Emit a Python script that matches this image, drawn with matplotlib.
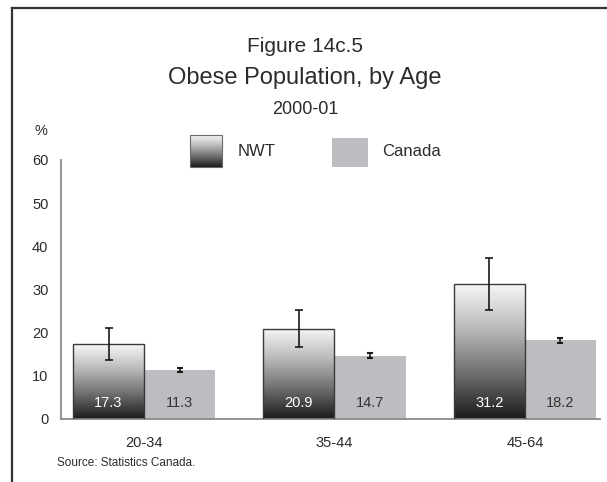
import matplotlib
matplotlib.use("Agg")
import matplotlib.pyplot as plt
import numpy as np
from matplotlib.lines import Line2D
from matplotlib.patches import Rectangle
from matplotlib import font_manager

# Data
age_groups = ["20-34", "35-44", "45-64"]
nwt = [17.3, 20.9, 31.2]
nwt_err = [3.7, 4.3, 6.0]
canada = [11.3, 14.7, 18.2]
canada_err = [0.5, 0.6, 0.5]
series_names = ["NWT", "Canada"]
y_ticks = [0, 10, 20, 30, 40, 50, 60]

names = {f.name for f in font_manager.fontManager.ttflist}
family = "Liberation Sans Narrow" if "Liberation Sans Narrow" in names else "Liberation Sans"
plt.rcParams["font.family"] = [family, "DejaVu Sans"]

TEXT = "#2b2b2b"
CANADA_COLOR = "#bdbdc1"

W, H = 607, 482
fig = plt.figure(figsize=(W / 100, H / 100), dpi=100)
fig.patch.set_facecolor("white")

ax_left, ax_right = 61 / W, 600 / W
ax_bottom, ax_top = 1 - 419 / H, 1 - 160 / H
ax = fig.add_axes([ax_left, ax_bottom, ax_right - ax_left, ax_top - ax_bottom])

x = np.arange(len(age_groups))
width = 0.373

# vertical gradient: light at the top, near-black at the bottom
grad = np.linspace(0, 1, 256).reshape(-1, 1)
cmap = matplotlib.colors.LinearSegmentedColormap.from_list(
    "nwt", ["#f7f7f7", "#b9b9b9", "#6e6e6e", "#1a1a1a"])

nwt_bars = ax.bar(x - width / 2, nwt, width, color="none",
                  edgecolor="#3a3a3a", linewidth=1.0, zorder=3)
for bar in nwt_bars:
    x0, y0 = bar.get_x(), bar.get_y()
    w, h = bar.get_width(), bar.get_height()
    im = ax.imshow(grad, cmap=cmap, aspect="auto",
                   extent=(x0, x0 + w, y0, y0 + h), origin="upper", zorder=2)
    im.set_clip_path(bar)

ax.bar(x + width / 2, canada, width, color=CANADA_COLOR, linewidth=0, zorder=2)

ax.errorbar(x - width / 2, nwt, yerr=nwt_err, fmt="none", ecolor="#1a1a1a",
            elinewidth=1.2, capsize=3, capthick=1.2, zorder=4)
ax.errorbar(x + width / 2, canada, yerr=canada_err, fmt="none", ecolor="#1a1a1a",
            elinewidth=1.2, capsize=2.5, capthick=1.5, zorder=4)

for xi, v in zip(x, nwt):
    ax.text(xi - width / 2, 3.7, f"{v:.1f}", ha="center", va="center",
            color="white", fontsize=10.5, zorder=5)
for xi, v in zip(x, canada):
    ax.text(xi + width / 2, 3.7, f"{v:.1f}", ha="center", va="center",
            color="#333333", fontsize=10.5, zorder=5)

ax.set_xlim(-0.436, 2.394)
ax.set_ylim(0, 60)
ax.set_yticks(y_ticks)
ax.set_yticklabels([str(t) for t in y_ticks], fontsize=10.5, color=TEXT)
ax.set_xticks(x)
ax.set_xticklabels(age_groups, fontsize=10.5, color=TEXT)
ax.tick_params(axis="both", length=0)
ax.tick_params(axis="y", pad=9)
ax.tick_params(axis="x", pad=12)
for side in ["top", "right"]:
    ax.spines[side].set_visible(False)
for side in ["left", "bottom"]:
    ax.spines[side].set_color("#8a8a8a")
    ax.spines[side].set_linewidth(1.3)
ax.set_facecolor("none")

# Titles
fig.text(305 / W, 1 - 47 / H, "Figure 14c.5", ha="center", va="center",
         fontsize=15, color=TEXT)
fig.text(305 / W, 1 - 78 / H, "Obese Population, by Age", ha="center",
         va="center", fontsize=17, color=TEXT)
fig.text(305 / W, 1 - 109 / H, "2000-01", ha="center", va="center",
         fontsize=13, color=TEXT)
fig.text(41 / W, 1 - 131 / H, "%", ha="center", va="center",
         fontsize=10.5, color=TEXT)

# Legend
lax = fig.add_axes([0, 0, 1, 1], facecolor="none")
lax.set_xlim(0, W)
lax.set_ylim(H, 0)
lax.axis("off")
leg_patch = Rectangle((190, 135), 32, 32, facecolor="none",
                      edgecolor="#6a6a6a", linewidth=0.8, zorder=3)
lax.add_patch(leg_patch)
lim = lax.imshow(grad, cmap=cmap, aspect="auto", extent=(190, 222, 167, 135),
                 origin="upper", zorder=2)
lim.set_clip_path(leg_patch)
lax.add_patch(Rectangle((332, 138), 36, 29, facecolor=CANADA_COLOR,
                        edgecolor="none"))
lax.text(238, 152, series_names[0], ha="left", va="center",
         fontsize=12, color=TEXT)
lax.text(382, 152, series_names[1], ha="left", va="center",
         fontsize=12, color=TEXT)

# Source note
fig.text(57 / W, 1 - 463 / H, "Source: Statistics Canada.", ha="left",
         va="center", fontsize=8.5, color=TEXT)

# Page frame: top and left rules
fig.add_artist(Line2D([12 / W, 12 / W], [1 - 8 / H, 0], color="#333333",
                      linewidth=1.6, transform=fig.transFigure))
fig.add_artist(Line2D([12 / W, 1], [1 - 8 / H, 1 - 8 / H], color="#333333",
                      linewidth=1.6, transform=fig.transFigure))

fig.savefig("out.png", dpi=100)
